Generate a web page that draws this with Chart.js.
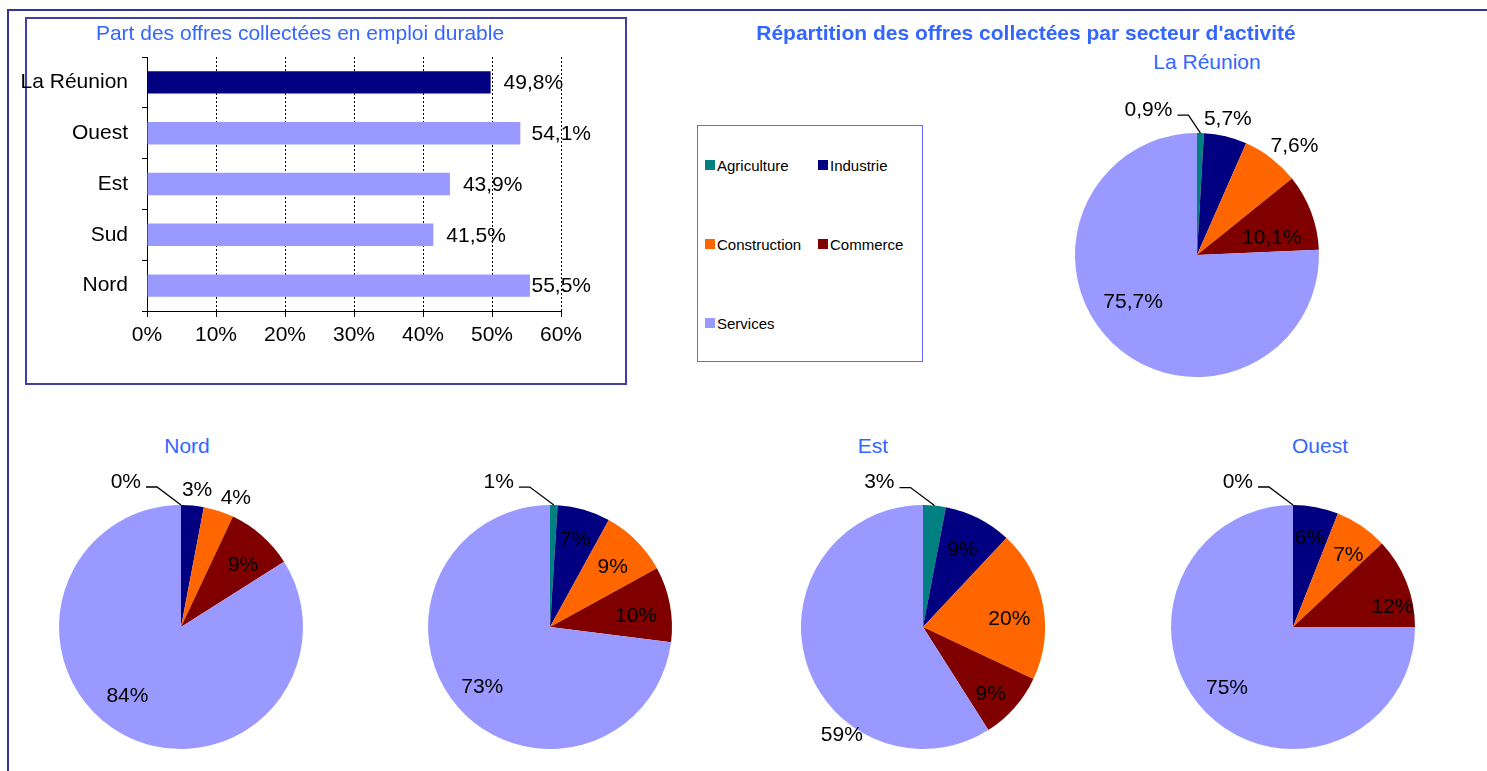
<!DOCTYPE html>
<html>
<head>
<meta charset="utf-8">
<script src="https://cdn.jsdelivr.net/npm/chart.js@4"></script>
<style>
  body { margin: 0; width: 1487px; height: 771px; position: relative; overflow: hidden; background: #fff;
         font-family: "Liberation Sans", Arial, sans-serif; }
  .frame { position: absolute; left: 7px; top: 9px; right: -10px; bottom: -10px;
           border-left: 2px solid #333399; border-top: 2px solid #333399; }
  #barBox { position: absolute; left: 25px; top: 17px; width: 598px; height: 364px; border: 2px solid #3f3fa5; }
  #legendBox { position: absolute; left: 697px; top: 125px; width: 224px; height: 235px; border: 1px solid #6666ff; }
  .leg { position: absolute; height: 10px; }
  .leg i { position: absolute; left: 0; top: 0; width: 10px; height: 10px; }
  .leg span { position: absolute; left: 12px; top: -2px; font-size: 15px; line-height: 15px; white-space: nowrap; }
  .ttl { position: absolute; white-space: nowrap; color: #3366ff; font-size: 21px; transform: translate(-50%, -50%); }
  #mainTitle { font-weight: bold; }
  canvas { position: absolute; }
</style>
</head>
<body>
<div class="frame"></div>
<div id="barBox"></div>
<canvas id="barChart" width="600" height="368" style="left:5px;top:17px"></canvas>
<div class="ttl" style="left:300px;top:33px">Part des offres collectées en emploi durable</div>
<div id="mainTitle" class="ttl" style="left:1026px;top:33px">Répartition des offres collectées par secteur d'activité</div>
<div id="legendBox"></div>
<div class="ttl" style="left:1207px;top:62px">La Réunion</div>
<div class="ttl" style="left:187px;top:446px">Nord</div>
<div class="ttl" style="left:873px;top:446px">Est</div>
<div class="ttl" style="left:1320px;top:446px">Ouest</div>
<canvas id="pieReunion"></canvas>
<canvas id="pieNord"></canvas>
<canvas id="pieSud"></canvas>
<canvas id="pieEst"></canvas>
<canvas id="pieOuest"></canvas>
<script>
// part des offres en emploi durable (%)
const barCategories = ['La Réunion', 'Ouest', 'Est', 'Sud', 'Nord'];
const barValues = [49.8, 54.1, 43.9, 41.5, 55.5];
const barTicks = [0, 10, 20, 30, 40, 50, 60];

// répartition par secteur (%)
const sectors = ['Agriculture', 'Industrie', 'Construction', 'Commerce', 'Services'];
const reunionShares = [0.9, 5.7, 7.6, 10.1, 75.7];
const nordShares = [0, 3, 4, 9, 84];
const sudShares = [1, 7, 9, 10, 73];
const estShares = [3, 9, 20, 9, 59];
const ouestShares = [0, 6, 7, 12, 75];

const sectorColors = ['#008080', '#000080', '#ff6600', '#800000', '#9999ff'];
const barColors = ['#000080', '#9999ff', '#9999ff', '#9999ff', '#9999ff'];

Chart.defaults.font.family = '"Liberation Sans", Arial, sans-serif';
Chart.defaults.font.size = 21;
Chart.defaults.color = '#000';
Chart.defaults.animation = false;

function pct(v, d) {
  return v.toFixed(d).replace('.', ',') + '%';
}

const barLabels = {
  id: 'barLabels',
  afterDatasetsDraw(chart) {
    const ctx = chart.ctx;
    const meta = chart.getDatasetMeta(0);
    const limit = chart.chartArea.right + 30;
    ctx.save();
    ctx.font = '21px "Liberation Sans", Arial, sans-serif';
    ctx.fillStyle = '#000';
    ctx.textBaseline = 'middle';
    meta.data.forEach(function(bar, i) {
      const txt = pct(barValues[i], 1);
      const w = ctx.measureText(txt).width;
      ctx.fillText(txt, Math.min(bar.x + 13, limit - w), bar.y + 1);
    });
    ctx.restore();
  }
};

new Chart(document.getElementById('barChart'), {
  type: 'bar',
  data: {
    labels: barCategories,
    datasets: [{
      data: barValues,
      backgroundColor: barColors,
      borderWidth: 0,
      categoryPercentage: 1,
      barPercentage: 0.44
    }]
  },
  options: {
    indexAxis: 'y',
    responsive: false,
    layout: { padding: { left: 12, right: 44, top: 40, bottom: 37 } },
    plugins: {
      legend: { display: false },
      tooltip: { enabled: false },
      title: { display: false }
    },
    scales: {
      x: {
        min: barTicks[0],
        max: barTicks[barTicks.length - 1],
        afterBuildTicks: function(scale) {
          scale.ticks = barTicks.map(function(v) { return { value: v }; });
        },
        afterFit: function(scale) { scale.height = 37; },
        ticks: { padding: 5.4, maxRotation: 0, callback: function(v) { return v + '%'; } },
        grid: { color: '#000', lineWidth: 1, tickLength: 6, tickColor: '#000' },
        border: { color: '#000', width: 1, dash: [2, 2] }
      },
      y: {
        afterFit: function(scale) { scale.width = 130; },
        ticks: { padding: 14 },
        grid: { offset: true, drawOnChartArea: false, tickLength: 5, tickColor: '#000' },
        border: { color: '#000', width: 1 }
      }
    }
  },
  plugins: [barLabels]
});

// legend, two columns
const legendBox = document.getElementById('legendBox');
sectors.forEach(function(s, k) {
  const d = document.createElement('div');
  d.className = 'leg';
  d.style.left = (7 + (k % 2) * 113) + 'px';
  d.style.top = (33.5 + Math.floor(k / 2) * 79) + 'px';
  d.innerHTML = '<i style="background:' + sectorColors[k] + '"></i><span>' + s + '</span>';
  legendBox.appendChild(d);
});

const pieLabels = {
  id: 'pieLabels',
  afterDatasetsDraw(chart, args, opts) {
    const ctx = chart.ctx;
    const arcs = chart.getDatasetMeta(0).data;
    const vals = chart.data.datasets[0].data;
    ctx.save();
    ctx.font = '21px "Liberation Sans", Arial, sans-serif';
    ctx.fillStyle = '#000';
    ctx.strokeStyle = '#000';
    ctx.lineWidth = 1.3;
    ctx.textBaseline = 'middle';
    arcs.forEach(function(arc, i) {
      const p = arc.getProps(['x', 'y', 'startAngle', 'endAngle', 'outerRadius'], true);
      const txt = pct(vals[i], opts.decimals);
      const mid = (p.startAngle + p.endAngle) / 2;
      const pl = opts.place[i];
      if (pl === 'L') {
        // small slice: label off to the left with a leader line
        const px = p.x + Math.cos(mid) * p.outerRadius;
        const py = p.y + Math.sin(mid) * p.outerRadius;
        const kx = px - opts.leader, ky = py - 18;
        ctx.beginPath();
        ctx.moveTo(px, py);
        ctx.lineTo(kx, ky);
        ctx.lineTo(kx - 11, ky);
        ctx.stroke();
        ctx.textAlign = 'right';
        ctx.fillText(txt, kx - 16, ky - 5);
      } else {
        const a = mid + pl[0] * Math.PI / 180;
        const r = p.outerRadius * pl[1];
        ctx.textAlign = 'center';
        ctx.fillText(txt, p.x + Math.cos(a) * r, p.y + Math.sin(a) * r);
      }
    });
    ctx.restore();
  }
};

function makePie(id, values, cx, cy, place, decimals, leader) {
  const R = 122, H = 200, TOP = 70;
  const el = document.getElementById(id);
  el.width = 2 * H;
  el.height = 2 * R + TOP + 30;
  el.style.left = (cx - H) + 'px';
  el.style.top = (cy - R - TOP) + 'px';
  new Chart(el, {
    type: 'pie',
    data: {
      labels: sectors,
      datasets: [{ data: values, backgroundColor: sectorColors, borderWidth: 0 }]
    },
    options: {
      responsive: false,
      layout: { padding: { left: H - R, right: H - R, top: TOP, bottom: 30 } },
      plugins: {
        legend: { display: false },
        tooltip: { enabled: false },
        pieLabels: { place: place, decimals: decimals, leader: leader }
      }
    },
    plugins: [pieLabels]
  });
}

makePie('pieReunion', reunionShares, 1197, 255,
  ['L', [-0.7, 1.14], [4.3, 1.2], [7.7, 0.63], [10, 0.65]], 1, 12);
makePie('pieNord', nordShares, 181, 627,
  ['L', [1.3, 1.13], [5, 1.15], [3.6, 0.72], [8.8, 0.72]], 0, 24);
makePie('pieSud', sudShares, 550, 627,
  ['L', [0, 0.74], [1.4, 0.71], [3.8, 0.71], [0, 0.74]], 0, 24);
makePie('pieEst', estShares, 923, 627,
  ['L', [0, 0.71], [5.8, 0.71], [3.2, 0.78], [-37, 1.11]], 0, 24);
makePie('pieOuest', ouestShares, 1293, 627,
  ['L', [0, 0.74], [3.6, 0.74], [10.6, 0.83], [2, 0.74]], 0, 24);
</script>
</body>
</html>
